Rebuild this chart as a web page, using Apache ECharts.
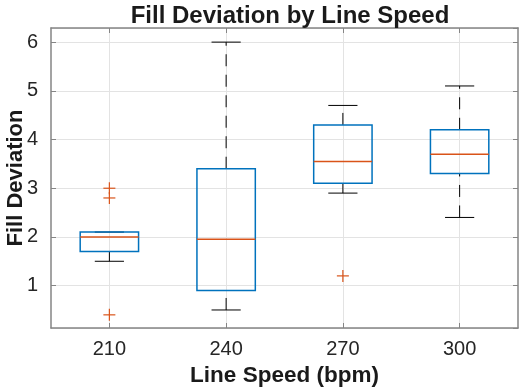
<!DOCTYPE html>
<html>
<head>
<meta charset="utf-8">
<script src="https://cdn.jsdelivr.net/npm/echarts@6/dist/echarts.min.js"></script>
<style>
html,body{margin:0;padding:0;background:#fff;}
#chart{width:522px;height:390px;}
</style>
</head>
<body>
<div id="chart"></div>
<script>
// ---- data ----
const categories = ['210', '240', '270', '300'];
const whiskerLow  = [1.5, 0.5, 2.9, 2.4];
const q1          = [1.7, 0.9, 3.1, 3.3];
const median      = [2.0, 1.95, 3.55, 3.7];
const q3          = [2.1, 3.4, 4.3, 4.2];
const whiskerHigh = [2.1, 6.0, 4.7, 5.1];
const outlierCategory = ['210', '210', '210', '270'];
const outlierValue    = [3.0, 2.8, 0.4, 1.2];

const titleText = 'Fill Deviation by Line Speed';
const xName = 'Line Speed (bpm)';
const yName = 'Fill Deviation';

// ---- build ----
const boxData = categories.map((c, i) => [i, whiskerLow[i], q1[i], median[i], q3[i], whiskerHigh[i]]);
const outlierData = outlierCategory.map((c, i) => [categories.indexOf(c), outlierValue[i]]);

const FONT = "'Liberation Sans', Arial, Helvetica, sans-serif";
const AXIS_COLOR = '#858585';
const TEXT_COLOR = '#262626';
const BLUE = '#0072BD';
const ORANGE = '#D95319';

function renderBox(params, api) {
  const x = api.value(0);
  const lo = api.value(1), b1 = api.value(2), md = api.value(3), b3 = api.value(4), hi = api.value(5);
  const band = api.size([1, 0])[0];
  const boxHalf = band * 0.25;
  const capHalf = band * 0.125;
  const pLo = api.coord([x, lo]);
  const p1 = api.coord([x, b1]);
  const pM = api.coord([x, md]);
  const p3 = api.coord([x, b3]);
  const pHi = api.coord([x, hi]);
  const cx = pM[0];
  const whiskerStyle = { stroke: '#000', lineWidth: 1, lineDash: [12, 8.5], fill: null };
  const capStyle = { stroke: '#000', lineWidth: 1, fill: null };
  return {
    type: 'group',
    children: [
      { type: 'line', shape: { x1: cx, y1: pLo[1], x2: cx, y2: p1[1] }, style: whiskerStyle },
      { type: 'line', shape: { x1: cx, y1: p3[1], x2: cx, y2: pHi[1] }, style: whiskerStyle },
      { type: 'line', shape: { x1: cx - capHalf, y1: pLo[1], x2: cx + capHalf, y2: pLo[1] }, style: capStyle },
      { type: 'line', shape: { x1: cx - capHalf, y1: pHi[1], x2: cx + capHalf, y2: pHi[1] }, style: capStyle },
      { type: 'rect', shape: { x: cx - boxHalf, y: p3[1], width: boxHalf * 2, height: p1[1] - p3[1] },
        style: { stroke: BLUE, lineWidth: 1.5, fill: null } },
      { type: 'line', shape: { x1: cx - boxHalf, y1: pM[1], x2: cx + boxHalf, y2: pM[1] },
        style: { stroke: ORANGE, lineWidth: 1.5, fill: null } }
    ]
  };
}

function renderOutlier(params, api) {
  const p = api.coord([api.value(0), api.value(1)]);
  const h = 6;
  const st = { stroke: ORANGE, lineWidth: 1.2, fill: null };
  return {
    type: 'group',
    children: [
      { type: 'line', shape: { x1: p[0] - h, y1: p[1], x2: p[0] + h, y2: p[1] }, style: st },
      { type: 'line', shape: { x1: p[0], y1: p[1] - h, x2: p[0], y2: p[1] + h }, style: st }
    ]
  };
}

const yMin = 0.13, yMax = 6.29;

const chart = echarts.init(document.getElementById('chart'), null, { renderer: 'canvas' });
chart.setOption({
  animation: false,
  backgroundColor: '#fff',
  textStyle: { fontFamily: FONT },
  title: {
    text: titleText,
    left: 285, top: -1, textAlign: 'center',
    textStyle: { fontFamily: FONT, fontSize: 24, fontWeight: 'bold', color: '#1a1a1a' }
  },
  grid: { left: 51, right: 4, top: 28, bottom: 62, containLabel: false, outerBoundsMode: 'none' },
  xAxis: [
    {
      type: 'category', data: categories, position: 'bottom', boundaryGap: true,
      name: xName, nameLocation: 'middle', nameGap: 36, nameMoveOverlap: false,
      nameTextStyle: { fontFamily: FONT, fontSize: 22.5, fontWeight: 'bold', color: '#1a1a1a' },
      axisLine: { show: true, lineStyle: { color: AXIS_COLOR, width: 1.5 } },
      axisTick: { show: true, inside: true, alignWithLabel: true, length: 5, lineStyle: { color: AXIS_COLOR } },
      axisLabel: { fontFamily: FONT, fontSize: 20, color: TEXT_COLOR, margin: 11 },
      splitLine: { show: true, alignWithLabel: true, lineStyle: { color: '#e3e3e3', width: 1 } }
    },
    {
      type: 'category', data: categories, position: 'top', boundaryGap: true,
      axisLine: { show: true, lineStyle: { color: AXIS_COLOR, width: 1.5 } },
      axisTick: { show: true, inside: true, alignWithLabel: true, length: 5, lineStyle: { color: AXIS_COLOR } },
      axisLabel: { show: false },
      splitLine: { show: false }
    }
  ],
  yAxis: [
    {
      type: 'value', min: yMin, max: yMax, splitNumber: 5,
      name: yName, nameLocation: 'middle', nameGap: 24, nameRotate: 90, nameMoveOverlap: false,
      nameTextStyle: { fontFamily: FONT, fontSize: 22, fontWeight: 'bold', color: '#1a1a1a' },
      axisLine: { show: true, lineStyle: { color: AXIS_COLOR, width: 1.5 } },
      axisTick: { show: true, inside: true, length: 5, lineStyle: { color: AXIS_COLOR } },
      axisLabel: { fontFamily: FONT, fontSize: 20, color: TEXT_COLOR, margin: 13, showMinLabel: false, showMaxLabel: false },
      splitLine: { show: true, lineStyle: { color: '#e3e3e3', width: 1 } }
    },
    {
      type: 'value', min: yMin, max: yMax, splitNumber: 5, position: 'right',
      axisLine: { show: true, lineStyle: { color: AXIS_COLOR, width: 1.5 } },
      axisTick: { show: true, inside: true, length: 5, lineStyle: { color: AXIS_COLOR } },
      axisLabel: { show: false },
      splitLine: { show: false }
    }
  ],
  series: [
    {
      type: 'custom', xAxisIndex: 0, yAxisIndex: 0,
      renderItem: renderBox, data: boxData,
      encode: { x: 0, y: [1, 2, 3, 4, 5] }, z: 3, silent: true
    },
    {
      type: 'custom', xAxisIndex: 0, yAxisIndex: 0,
      renderItem: renderOutlier, data: outlierData,
      encode: { x: 0, y: 1 }, z: 4, silent: true
    }
  ]
});
</script>
</body>
</html>
